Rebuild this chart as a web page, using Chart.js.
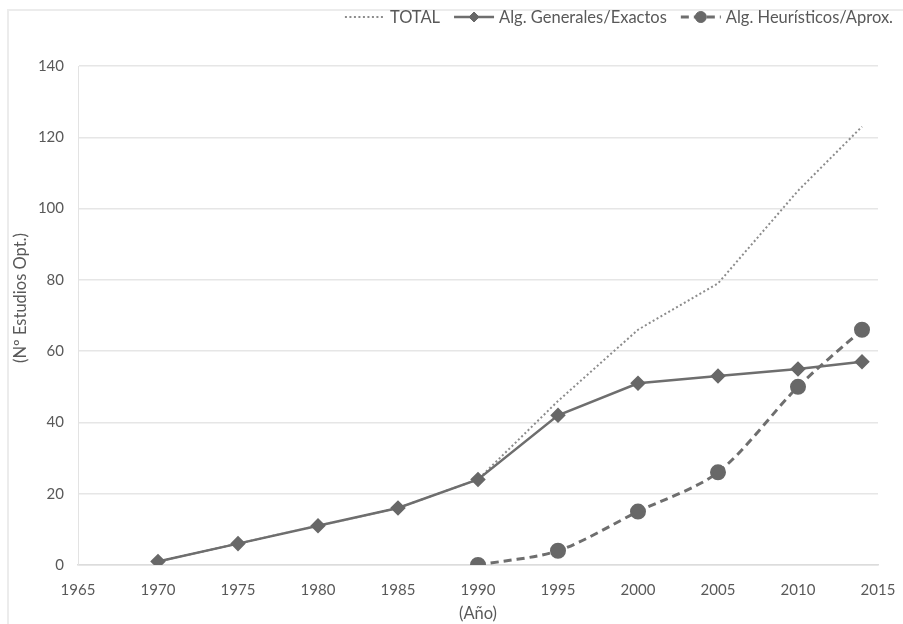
<!DOCTYPE html>
<html>
<head>
<meta charset="utf-8">
<script src="https://cdn.jsdelivr.net/npm/chart.js@4.4.1/dist/chart.umd.min.js"></script>
<style>
  html, body { margin: 0; padding: 0; background: #fff; overflow: hidden; }
  #wrap { position: relative; width: 903px; height: 624px; }
  #frame { position: absolute; left: 7px; top: 9px; width: 1000px; height: 1000px;
           border-top: 2px solid #ececec; border-left: 2px solid #ececec; }
  #chart { position: absolute; left: 0; top: 0; }
</style>
</head>
<body>
<div id="wrap">
  <div id="frame"></div>
  <canvas id="chart" width="903" height="624"></canvas>
</div>
<script>
// Datos
const years = [1970, 1975, 1980, 1985, 1990, 1995, 2000, 2005, 2010, 2014];
const generales = [1, 6, 11, 16, 24, 42, 51, 53, 55, 57];
const total = [1, 6, 11, 16, 24, 46, 66, 79, 105, 123];
const heurYears = [1990, 1995, 2000, 2005, 2010, 2014];
const heuristicos = [0, 4, 15, 26, 50, 66];

const seriesNames = ["TOTAL", "Alg. Generales/Exactos", "Alg. Heurísticos/Aprox."];
const yTitle = "(Nº Estudios Opt.)";
const xTitle = "(Año)";

const FONT = "Lato, 'Open Sans', sans-serif";
const TEXT = "#595959";

function toPoints(xs, ys) {
  return xs.map((x, i) => ({ x: x, y: ys[i] }));
}

// Leyenda dibujada a mano (línea + marcador + texto) y título del eje Y
const legendLines = {
  id: "legendLines",
  afterDraw(chart) {
    const ctx = chart.ctx;
    const lineW = 40, gap = 5, itemGap = 14, y = 17;
    ctx.save();
    ctx.font = "16.5px " + FONT;
    ctx.textBaseline = "middle";
    const items = chart.data.datasets.map((ds) => ({ ds: ds, w: ctx.measureText(ds.label).width }));
    const totalW = items.reduce((s, it) => s + lineW + gap + it.w, 0) + itemGap * (items.length - 1);
    let x = 893 - totalW;
    items.forEach((it) => {
      const ds = it.ds;
      ctx.strokeStyle = ds.borderColor;
      ctx.lineWidth = ds.borderWidth;
      ctx.setLineDash(ds.borderDash || []);
      ctx.beginPath();
      ctx.moveTo(x, y);
      ctx.lineTo(x + lineW, y);
      ctx.stroke();
      ctx.setLineDash([]);
      if (ds.pointRadius > 0) {
        ctx.fillStyle = ds.pointBackgroundColor;
        ctx.strokeStyle = ds.pointBorderColor;
        ctx.lineWidth = 1;
        Chart.helpers.drawPoint(ctx, {
          pointStyle: ds.pointStyle, rotation: 0, radius: ds.pointRadius - 1, borderWidth: 1
        }, x + lineW / 2, y);
      }
      ctx.fillStyle = TEXT;
      ctx.textAlign = "left";
      ctx.fillText(ds.label, x + lineW + gap, y + 1);
      x += lineW + gap + it.w + itemGap;
    });

    // título eje Y
    ctx.translate(21, 298);
    ctx.rotate(-Math.PI / 2);
    ctx.textAlign = "center";
    ctx.fillStyle = TEXT;
    ctx.fillText(yTitle, 0, 0);
    ctx.restore();
  }
};

const ctx = document.getElementById("chart").getContext("2d");

const chart = new Chart(ctx, {
  type: "line",
  data: {
    datasets: [
      {
        label: seriesNames[0],
        data: toPoints(years, total),
        borderColor: "#8c8c8c",
        borderWidth: 2,
        borderDash: [2, 2.5],
        pointRadius: 0,
        tension: 0,
        order: 2
      },
      {
        label: seriesNames[1],
        data: toPoints(years, generales),
        borderColor: "#6e6e6e",
        borderWidth: 2.5,
        pointStyle: "rectRot",
        pointRadius: 6,
        pointBackgroundColor: "#686868",
        pointBorderColor: "#686868",
        tension: 0,
        order: 0
      },
      {
        label: seriesNames[2],
        data: toPoints(heurYears, heuristicos),
        borderColor: "#6e6e6e",
        borderWidth: 3,
        borderDash: [8, 5],
        pointStyle: "circle",
        pointRadius: 6.5,
        pointBackgroundColor: "#686868",
        pointBorderColor: "#686868",
        tension: 0.3,
        order: 1
      }
    ]
  },
  options: {
    responsive: false,
    devicePixelRatio: 1,
    animation: false,
    layout: { padding: { left: 8, top: 66, right: 25, bottom: 0 } },
    plugins: {
      legend: { display: false },
      tooltip: { enabled: false }
    },
    scales: {
      x: {
        type: "linear",
        min: 1965,
        max: 2015,
        afterFit: (s) => {
          s.height = 59;
          s.paddingLeft = 0;
          s.paddingRight = 0;
        },
        ticks: {
          stepSize: 5,
          padding: 16,
          maxRotation: 0,
          minRotation: 0,
          autoSkip: false,
          color: TEXT,
          font: { family: FONT, size: 15 },
          callback: (v) => String(v)
        },
        grid: { display: false, drawTicks: false },
        border: { display: true, color: "#dcdcdc", width: 1.5 },
        title: {
          display: true,
          text: xTitle,
          color: TEXT,
          font: { family: FONT, size: 16.5 },
          padding: 0
        }
      },
      y: {
        min: 0,
        max: 140,
        afterFit: (s) => { s.width = 70; },
        ticks: {
          stepSize: 20,
          padding: 14,
          color: TEXT,
          font: { family: FONT, size: 15 }
        },
        grid: { color: "#e6e6e6", lineWidth: 1.5, drawTicks: false },
        border: { display: true, color: "#e3e3e3", width: 1 },
        title: { display: false }
      }
    }
  },
  plugins: [legendLines]
});
</script>
</body>
</html>
